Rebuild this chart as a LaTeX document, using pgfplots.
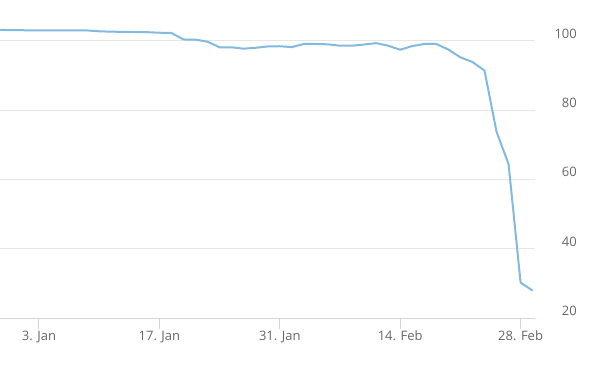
\documentclass[border=0pt]{standalone}
\usepackage{fontspec}
\setmainfont{Open Sans}
\usepackage{pgfplots}
\pgfplotsset{compat=1.18}
\definecolor{linec}{RGB}{130,185,225}
\definecolor{gridc}{RGB}{230,230,230}
\definecolor{axisc}{RGB}{204,214,235}
\definecolor{labelc}{RGB}{102,102,102}
\pgfplotstableread{
n v
-4 103.15
-3 103.10
-2 103.05
-1 103.00
0 103.00
1 103.00
2 103.00
3 103.00
4 102.95
5 102.71
6 102.60
7 102.55
8 102.50
9 102.45
10 102.30
11 102.22
12 100.35
13 100.30
14 99.70
15 98.10
16 98.10
17 97.70
18 97.95
19 98.35
20 98.40
21 98.15
22 99.05
23 99.05
24 98.95
25 98.55
26 98.55
27 98.90
28 99.30
29 98.55
30 97.40
31 98.45
32 99.05
33 99.05
34 97.45
35 95.20
36 93.85
37 91.40
38 73.75
39 64.40
40 30.20
41 27.90
}\datatable
\begin{document}
\begin{tikzpicture}
\begin{axis}[
  at={(0,0)}, anchor=south west,
  scale only axis,
  width=535bp, height=318bp,
  xmin=-3.239, xmax=41.196,
  ymin=20, ymax=111.74,
  axis x line*=bottom,
  axis y line*=right,
  y axis line style={draw=none},
  x axis line style={draw=axisc, line width=1bp, -},
  xtick={0,10,20,30,40},
  xticklabels={3. Jan,17. Jan,31. Jan,14. Feb,28. Feb},
  ytick={20,40,60,80,100},
  ymajorgrids,
  grid style={draw=gridc, line width=1bp},
  tick align=outside,
  major tick length=11bp,
  xtick style={draw=axisc, line width=1bp},
  ytick style={draw=none},
  tick label style={font=\fontsize{13bp}{15bp}\selectfont, text=labelc, inner sep=0pt},
  xticklabel style={anchor=base, yshift=-22bp+11bp},
  yticklabel style={anchor=base east, xshift=31bp, yshift=2.4bp},
  /pgf/number format/assume math mode=true,
  clip=true,
]
\addplot[linec, line width=2bp, line join=round] table[x=n, y=v] {\datatable};
\end{axis}
\pgfresetboundingbox
\useasboundingbox (0,-52bp) rectangle (593bp,318bp);
\end{tikzpicture}
\end{document}
